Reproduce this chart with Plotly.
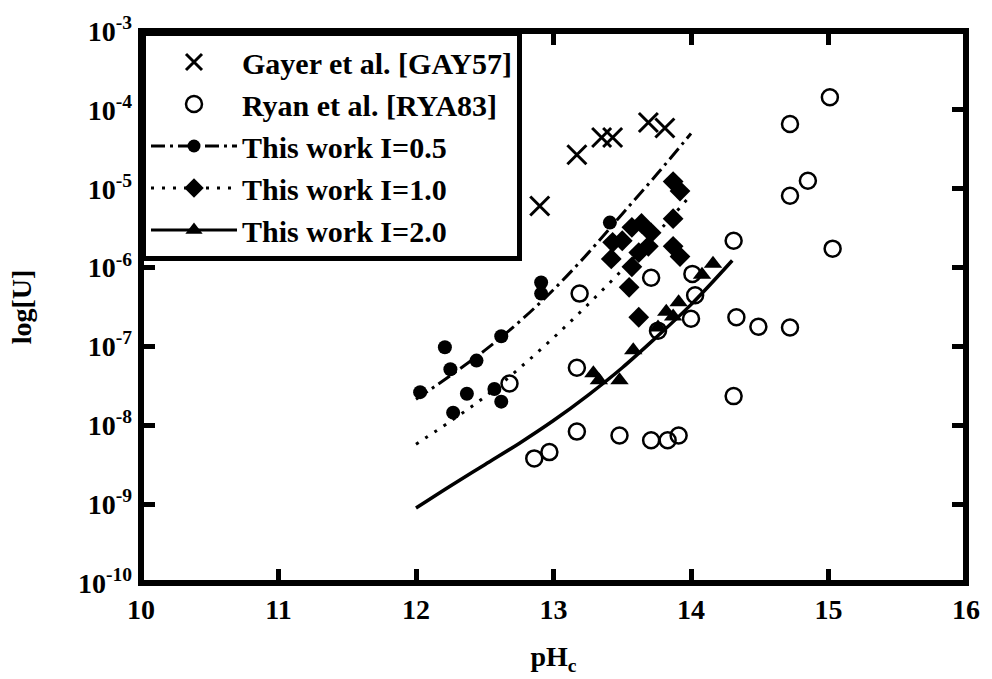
import plotly.graph_objects as go

# ---- Gayer et al. [GAY57] ----
gay_ph = [12.90, 13.17, 13.35, 13.43, 13.69, 13.81]
gay_logu = [-5.22, -4.57, -4.35, -4.35, -4.16, -4.23]

# ---- Ryan et al. [RYA83] ----
ryan_ph = [12.86, 12.97, 13.17, 13.48, 13.71, 13.83, 13.91, 12.68, 13.17, 13.19,
           13.71, 13.76, 14.00, 14.01, 14.03, 14.31, 14.33, 14.49, 14.72, 14.31,
           14.72, 14.85, 14.72, 15.01, 15.03]
ryan_logu = [-8.42, -8.34, -8.08, -8.13, -8.19, -8.19, -8.13, -7.47, -7.27, -6.33,
             -6.13, -6.80, -6.65, -6.08, -6.35, -5.66, -6.63, -6.75, -6.76, -7.63,
             -5.09, -4.90, -4.18, -3.84, -5.76]

# ---- This work, I = 0.5 ----
i05_ph = [12.03, 12.21, 12.25, 12.44, 12.27, 12.37, 12.57, 12.62, 12.62, 12.91, 12.91, 13.41]
i05_logu = [-7.58, -7.01, -7.29, -7.18, -7.84, -7.60, -7.54, -7.70, -6.87, -6.33, -6.19, -5.43]

# ---- This work, I = 1.0 ----
i10_ph = [13.87, 13.92, 13.87, 13.57, 13.64, 13.71, 13.43, 13.50, 13.42, 13.62,
          13.69, 13.57, 13.87, 13.92, 13.55, 13.62]
i10_logu = [-4.91, -5.03, -5.38, -5.49, -5.44, -5.56, -5.68, -5.66, -5.89, -5.81,
            -5.73, -5.99, -5.73, -5.86, -6.25, -6.63]

# ---- This work, I = 2.0 ----
i20_ph = [13.29, 13.33, 13.48, 13.58, 13.76, 13.82, 13.87, 13.91, 14.08, 14.16]
i20_logu = [-7.34, -7.43, -7.43, -7.05, -6.76, -6.56, -6.62, -6.44, -6.09, -5.95]

# ---- model curves ----
fit05_ph = [12.0, 12.25, 12.5, 12.75, 13.0, 13.25, 13.5, 13.75, 14.0]
fit05_logu = [-7.67, -7.37, -7.05, -6.69, -6.28, -5.82, -5.32, -4.82, -4.30]

fit10_ph = [12.0, 12.25, 12.5, 12.75, 13.0, 13.25, 13.5, 13.75, 14.0]
fit10_logu = [-8.24, -7.95, -7.64, -7.28, -6.89, -6.47, -6.03, -5.57, -5.08]

fit20_ph = [12.0, 12.25, 12.5, 12.75, 13.0, 13.25, 13.5, 13.75, 14.0, 14.3]
fit20_logu = [-9.05, -8.77, -8.50, -8.23, -7.94, -7.62, -7.27, -6.88, -6.47, -5.91]

x_ticks = [10, 11, 12, 13, 14, 15, 16]
y_exps = [-3, -4, -5, -6, -7, -8, -9, -10]


def pw(vals):
    return [10 ** v for v in vals]


FONT = "Liberation Serif, Times New Roman, serif"
BLK = "black"
DASH05 = "14px,5px,3px,5px"
DASH10 = "3px,8px"

fig = go.Figure()

# scatter data
fig.add_trace(go.Scatter(
    x=gay_ph, y=pw(gay_logu), mode="markers", name="<b>Gayer et al. [GAY57]</b>",
    marker=dict(symbol="x-thin", size=19, line=dict(color=BLK, width=3), color=BLK)))
fig.add_trace(go.Scatter(
    x=ryan_ph, y=pw(ryan_logu), mode="markers", name="<b>Ryan et al. [RYA83]</b>",
    marker=dict(symbol="circle-open", size=16, line=dict(color=BLK, width=2.5), color=BLK)))

# legend entries for this work (line + marker)
fig.add_trace(go.Scatter(
    x=[None], y=[None], mode="lines+markers", name="<b>This work I=0.5</b>", legendgroup="a",
    line=dict(color=BLK, width=3, dash=DASH05),
    marker=dict(symbol="circle", size=13, color=BLK)))
fig.add_trace(go.Scatter(
    x=[None], y=[None], mode="lines+markers", name="<b>This work I=1.0</b>", legendgroup="b",
    line=dict(color=BLK, width=3, dash=DASH10),
    marker=dict(symbol="diamond", size=15, color=BLK)))
fig.add_trace(go.Scatter(
    x=[None], y=[None], mode="lines+markers", name="<b>This work I=2.0</b>", legendgroup="c",
    line=dict(color=BLK, width=3),
    marker=dict(symbol="triangle-up", size=15, color=BLK)))

# model curves
fig.add_trace(go.Scatter(
    x=fit05_ph, y=pw(fit05_logu), mode="lines", showlegend=False, legendgroup="a",
    line=dict(color=BLK, width=3, dash=DASH05, shape="spline")))
fig.add_trace(go.Scatter(
    x=fit10_ph, y=pw(fit10_logu), mode="lines", showlegend=False, legendgroup="b",
    line=dict(color=BLK, width=3, dash=DASH10, shape="spline")))
fig.add_trace(go.Scatter(
    x=fit20_ph, y=pw(fit20_logu), mode="lines", showlegend=False, legendgroup="c",
    line=dict(color=BLK, width=3.5, shape="spline")))

# measured points
fig.add_trace(go.Scatter(
    x=i05_ph, y=pw(i05_logu), mode="markers", showlegend=False, legendgroup="a",
    marker=dict(symbol="circle", size=14, color=BLK)))
fig.add_trace(go.Scatter(
    x=i10_ph, y=pw(i10_logu), mode="markers", showlegend=False, legendgroup="b",
    marker=dict(symbol="diamond", size=16, color=BLK)))
fig.add_trace(go.Scatter(
    x=i20_ph, y=pw(i20_logu), mode="markers", showlegend=False, legendgroup="c",
    marker=dict(symbol="triangle-up", size=16, color=BLK)))

TICKFONT = dict(family=FONT, size=28, color=BLK, weight="bold")
TITLEFONT = dict(family=FONT, size=28, color=BLK, weight="bold")

fig.update_layout(
    width=992, height=679,
    margin=dict(l=141, r=19, t=30, b=96),
    paper_bgcolor="white", plot_bgcolor="white",
    font=dict(family=FONT, color=BLK, size=24, weight="bold"),
    showlegend=True,
    legend=dict(
        x=0, y=1, xanchor="left", yanchor="top",
        bgcolor="white", bordercolor=BLK, borderwidth=5,
        font=dict(family=FONT, size=30, color=BLK, weight="bold"),
        itemwidth=86, tracegroupgap=0,
    ),
    xaxis=dict(
        range=[10, 16], tickvals=x_ticks, ticktext=["<b>%d</b>" % v for v in x_ticks],
        ticks="inside", ticklen=14, tickwidth=5, tickcolor=BLK, mirror="ticks",
        showline=False, showgrid=False, zeroline=False,
        tickfont=TICKFONT, ticklabelstandoff=7,
        title=dict(text="<b>pH<sub>c</sub></b>", standoff=22, font=TITLEFONT),
    ),
    yaxis=dict(
        type="log", range=[-10, -3],
        tickvals=[10 ** e for e in y_exps],
        ticktext=["<b>10<sup>%d</sup></b>" % e for e in y_exps],
        ticks="inside", ticklen=14, tickwidth=5, tickcolor=BLK, mirror="ticks",
        showline=False, showgrid=False, zeroline=False,
        tickfont=TICKFONT, ticklabelstandoff=8,
        title=dict(text="<b>log[U]</b>", standoff=38, font=TITLEFONT),
    ),
    shapes=[dict(type="rect", xref="paper", yref="paper", x0=0, y0=0, x1=1, y1=1,
                 line=dict(color=BLK, width=6), layer="above")],
)

fig.write_html("out.html")
